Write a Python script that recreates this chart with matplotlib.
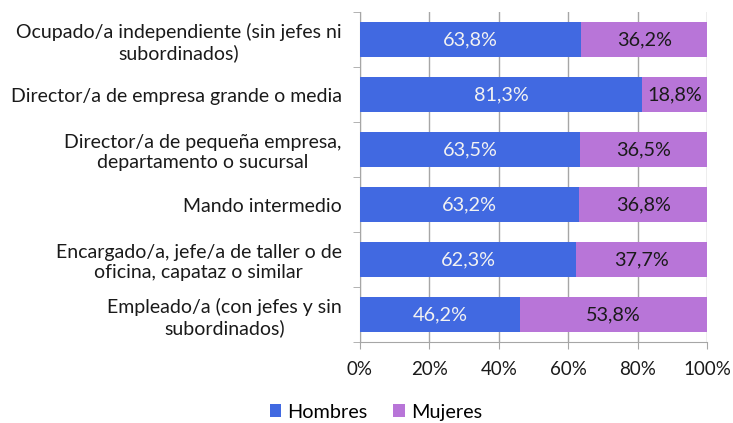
import numpy as np
import matplotlib.pyplot as plt
from matplotlib.ticker import PercentFormatter

plt.rcParams['font.family'] = ['Lato', 'DejaVu Sans']

categories = [
    'Ocupado/a independiente (sin jefes ni\nsubordinados)',
    'Director/a de empresa grande o media',
    'Director/a de pequeña empresa,\ndepartamento o sucursal',
    'Mando intermedio',
    'Encargado/a, jefe/a de taller o de\noficina, capataz o similar',
    'Empleado/a (con jefes y sin\nsubordinados)',
]
hombres = [63.8, 81.3, 63.5, 63.2, 62.3, 46.2]
mujeres = [36.2, 18.8, 36.5, 36.8, 37.7, 53.8]

blue = '#4169E1'
purple = '#B875D8'
grid_col = '#A6A6A6'

fig = plt.figure(figsize=(7.33, 4.23), dpi=100)
ax = fig.add_axes([0.491, 0.1915, 0.4735, 0.78])

y = np.arange(len(categories))
h_bars = ax.barh(y, hombres, height=0.65, color=blue, label='Hombres', zorder=3)
m_bars = ax.barh(y, mujeres, left=hombres, height=0.65, color=purple, label='Mujeres', zorder=3)

# value labels inside each segment
for bar, v in zip(h_bars, hombres):
    ax.text(bar.get_x() + bar.get_width() / 2, bar.get_y() + bar.get_height() / 2,
            f'{v:.1f}%'.replace('.', ','), ha='center', va='center',
            color='#F2F2F2', fontsize=14.3, zorder=4)
for bar, v in zip(m_bars, mujeres):
    ax.text(bar.get_x() + bar.get_width() / 2, bar.get_y() + bar.get_height() / 2,
            f'{v:.1f}%'.replace('.', ','), ha='center', va='center',
            color='#1A1A1A', fontsize=14.3, zorder=4)

ax.set_xlim(0, 100)
ax.set_ylim(len(categories) - 0.5, -0.5)
ax.set_xticks(np.arange(0, 101, 20))
ax.xaxis.set_major_formatter(PercentFormatter(decimals=0))
ax.set_yticks(y)
ax.set_yticklabels(categories, fontsize=14, color='#1A1A1A', linespacing=1.2,
                   multialignment='center')
ax.set_yticks(np.arange(-0.5, len(categories)), minor=True)
ax.tick_params(axis='y', which='major', length=0, pad=13)
ax.tick_params(axis='y', which='minor', length=5, color=grid_col)
ax.tick_params(axis='x', length=5, color=grid_col, labelsize=13.5, labelcolor='#1A1A1A', pad=9)
ax.xaxis.grid(True, color=grid_col, linewidth=1, zorder=0)

for s in ['top', 'right']:
    ax.spines[s].set_visible(False)
for s in ['left', 'bottom']:
    ax.spines[s].set_color(grid_col)

fig.legend(handles=[h_bars, m_bars], loc='center', bbox_to_anchor=(376 / 733, 1 - 412 / 423),
           ncol=2, frameon=False, fontsize=14.3, handlelength=0.6, handleheight=0.6,
           handletextpad=0.3, columnspacing=1.3)

fig.savefig('out.png', dpi=100)
